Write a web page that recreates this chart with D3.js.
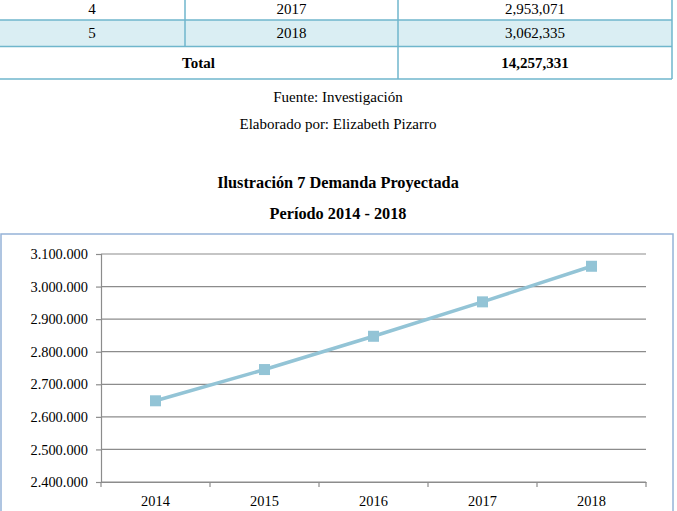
<!DOCTYPE html>
<html>
<head>
<meta charset="utf-8">
<script src="https://cdn.jsdelivr.net/npm/d3@7"></script>
<style>
    body { margin: 0; background: #fff; }
    svg { display: block; font-family: "Liberation Serif", "Times New Roman", serif; }
</style>
</head>
<body>
<div id="chart"></div>
<script>
// data
var years = ["2014", "2015", "2016", "2017", "2018"];
var demand = [2649311, 2745233, 2847381, 2953071, 3062335];
var tableNums = ["4", "5"];
var tableYears = ["2017", "2018"];
var tableValues = [2953071, 3062335];
var yTicks = [2400000, 2500000, 2600000, 2700000, 2800000, 2900000, 3000000, 3100000];

var width = 677, height = 511;
var lineColor = "#93c4d6";
var tableBorder = "#6fb6cc";

var svg = d3.select("#chart")
    .append("svg")
    .attr("width", width)
    .attr("height", height);

var fmtComma = d3.format(",");
var esLocale = d3.formatLocale({ decimal: ",", thousands: ".", grouping: [3], currency: ["", ""] });
var fmtDot = esLocale.format(",");

// ---- table (top, partly cut) ----
var colX = [-1, 185, 398, 672];
var rowY = [-20, 20, 46.5, 79];

svg.append("rect")
    .attr("x", 0).attr("y", rowY[1])
    .attr("width", colX[3]).attr("height", rowY[2] - rowY[1])
    .attr("fill", "#daeef3");

var tbl = svg.append("g").attr("stroke", tableBorder).attr("stroke-width", 1.5);
rowY.slice(1).forEach(function(y) {
    tbl.append("line").attr("x1", colX[0]).attr("x2", colX[3]).attr("y1", y).attr("y2", y);
});
[colX[0], colX[3], colX[2]].forEach(function(x) {
    tbl.append("line").attr("x1", x).attr("x2", x).attr("y1", rowY[0]).attr("y2", rowY[3]);
});
tbl.append("line").attr("x1", colX[1]).attr("x2", colX[1]).attr("y1", rowY[0]).attr("y2", rowY[2]);

var rows = tableNums.map(function(n, i) {
    return [n, tableYears[i], fmtComma(tableValues[i])];
});
rows.forEach(function(r, i) {
    r.forEach(function(t, j) {
        svg.append("text")
            .attr("x", (colX[j] + colX[j + 1]) / 2)
            .attr("y", [14, 38][i])
            .attr("text-anchor", "middle")
            .attr("font-size", 15)
            .text(t);
    });
});
svg.append("text")
    .attr("x", (colX[0] + colX[2]) / 2).attr("y", 67.5)
    .attr("text-anchor", "middle").attr("font-size", 15).attr("font-weight", "bold")
    .text("Total");
svg.append("text")
    .attr("x", (colX[2] + colX[3]) / 2).attr("y", 67.5)
    .attr("text-anchor", "middle").attr("font-size", 15).attr("font-weight", "bold")
    .text(fmtComma(d3.sum(demand)));

// ---- captions ----
svg.append("text").attr("x", 338).attr("y", 102).attr("text-anchor", "middle")
    .attr("font-size", 15).text("Fuente: Investigación");
svg.append("text").attr("x", 338).attr("y", 129).attr("text-anchor", "middle")
    .attr("font-size", 15).text("Elaborado por: Elizabeth Pizarro");
svg.append("text").attr("x", 338).attr("y", 188).attr("text-anchor", "middle")
    .attr("font-size", 16.3).attr("font-weight", "bold").text("Ilustración 7 Demanda Proyectada");
svg.append("text").attr("x", 338).attr("y", 219).attr("text-anchor", "middle")
    .attr("font-size", 16.3).attr("font-weight", "bold").text("Período 2014 - 2018");

// ---- chart box ----
svg.append("rect")
    .attr("x", 1).attr("y", 234)
    .attr("width", 672).attr("height", 300)
    .attr("fill", "#fff")
    .attr("stroke", "#95b3d7")
    .attr("stroke-width", 1.5);

var x = d3.scaleBand().domain(years).range([101, 646]);
var y = d3.scaleLinear().domain([2400000, 3100000]).range([482, 254]);

var g = svg.append("g");

// gridlines
g.selectAll(".grid")
    .data(yTicks)
    .enter().append("line")
    .attr("x1", x.range()[0]).attr("x2", x.range()[1])
    .attr("y1", function(d) { return y(d); })
    .attr("y2", function(d) { return y(d); })
    .attr("stroke", "#8c8c8c")
    .attr("stroke-width", 1.2);

// y axis
var yAxis = g.append("g")
    .attr("transform", "translate(" + x.range()[0] + ",0)")
    .call(d3.axisLeft(y).tickValues(yTicks).tickFormat(fmtDot).tickSize(5).tickPadding(8));
yAxis.select(".domain").attr("stroke", "#8c8c8c").attr("stroke-width", 1.2);
yAxis.selectAll(".tick line").attr("stroke", "#8c8c8c").attr("stroke-width", 1.2);
yAxis.selectAll(".tick text")
    .attr("font-family", "Liberation Serif")
    .attr("font-size", 14.4)
    .attr("fill", "#000");

// x axis
var xAxis = g.append("g")
    .attr("transform", "translate(0," + y.range()[0] + ")")
    .call(d3.axisBottom(x).tickSize(0).tickPadding(14));
xAxis.select(".domain").attr("stroke", "#8c8c8c").attr("stroke-width", 1.2);
xAxis.selectAll(".tick text")
    .attr("font-family", "Liberation Serif")
    .attr("font-size", 14.4)
    .attr("fill", "#000");
g.selectAll(".xtick")
    .data(years.concat(["end"]))
    .enter().append("line")
    .attr("x1", function(d, i) { return x.range()[0] + i * x.step(); })
    .attr("x2", function(d, i) { return x.range()[0] + i * x.step(); })
    .attr("y1", y.range()[0])
    .attr("y2", y.range()[0] + 5)
    .attr("stroke", "#8c8c8c")
    .attr("stroke-width", 1.2);

// series
var pts = years.map(function(yr, i) { return { year: yr, value: demand[i] }; });
g.append("path")
    .datum(pts)
    .attr("fill", "none")
    .attr("stroke", lineColor)
    .attr("stroke-width", 3.5)
    .attr("d", d3.line()
        .x(function(d) { return x(d.year) + x.bandwidth() / 2; })
        .y(function(d) { return y(d.value); }));

var ms = 11;
g.selectAll(".marker")
    .data(pts)
    .enter().append("rect")
    .attr("x", function(d) { return x(d.year) + x.bandwidth() / 2 - ms / 2; })
    .attr("y", function(d) { return y(d.value) - ms / 2; })
    .attr("width", ms).attr("height", ms)
    .attr("fill", lineColor);
</script>
</body>
</html>
